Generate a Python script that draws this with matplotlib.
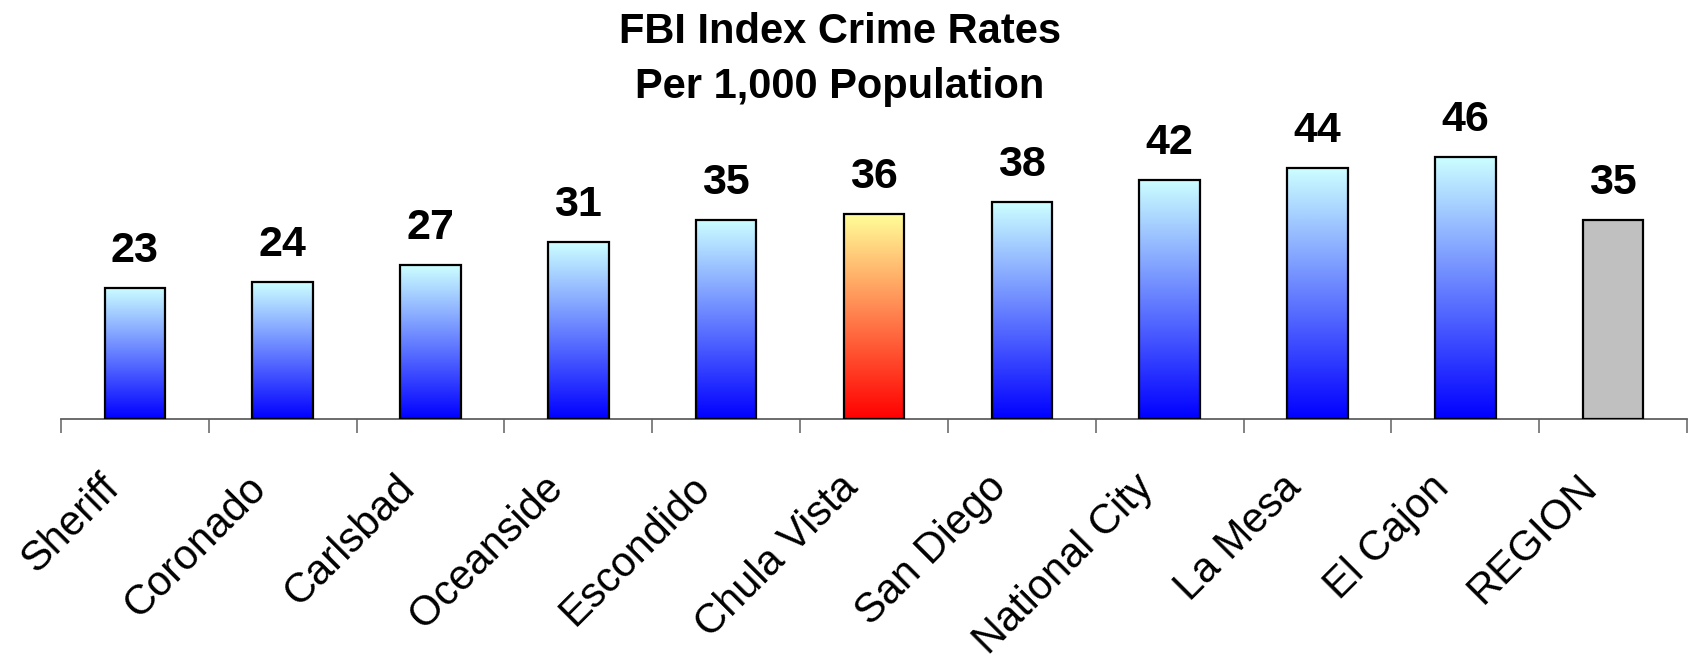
import numpy as np
import matplotlib
matplotlib.use("Agg")
import matplotlib.pyplot as plt
from matplotlib.colors import LinearSegmentedColormap
from matplotlib.transforms import ScaledTranslation

plt.rcParams['font.family'] = ['Liberation Sans', 'DejaVu Sans']

categories = ["Sheriff", "Coronado", "Carlsbad", "Oceanside", "Escondido",
              "Chula Vista", "San Diego", "National City", "La Mesa",
              "El Cajon", "REGION"]
values = [23, 24, 27, 31, 35, 36, 38, 42, 44, 46, 35]
kinds = ["blue", "blue", "blue", "blue", "blue", "warm",
         "blue", "blue", "blue", "blue", "gray"]
title_lines = ["FBI Index Crime Rates", "Per 1,000 Population"]

W, H = 1688, 661
fig = plt.figure(figsize=(W / 100, H / 100), dpi=100)
base_px = 419
px_per_unit = 5.7
ytop = 60
ax_h = ytop * px_per_unit
ax = fig.add_axes([61 / W, 1 - base_px / H, (1687 - 61) / W, ax_h / H])

x = np.arange(len(categories))
bars = ax.bar(x, values, width=0.41, facecolor='none', edgecolor='black',
              linewidth=1.6, zorder=3)

cmaps = {
    "blue": LinearSegmentedColormap.from_list("b", ["#0000FF", "#CCFFFF"]),
    "warm": LinearSegmentedColormap.from_list("w", ["#FF0000", "#FFFF99"]),
}
grad = np.linspace(0, 1, 256).reshape(-1, 1)
for bar, kind in zip(bars, kinds):
    x0, w, h = bar.get_x(), bar.get_width(), bar.get_height()
    if kind == "gray":
        bar.set_facecolor("#C0C0C0")
        continue
    im = ax.imshow(grad, cmap=cmaps[kind], origin='lower', aspect='auto',
                   extent=[x0, x0 + w, 0, h], zorder=2, interpolation='bilinear')
    im.set_clip_path(bar)

for xi, v in zip(x, values):
    ax.annotate(f"{v}", (xi, v), xytext=(0, 26), textcoords='offset pixels',
                ha='center', va='baseline', fontsize=31, fontweight='bold',
                annotation_clip=False)

ax.set_xlim(-0.5, len(categories) - 0.5)
ax.set_ylim(0, ytop)
for s in ['top', 'right', 'left']:
    ax.spines[s].set_visible(False)
ax.spines['bottom'].set_color('#606060')
ax.spines['bottom'].set_linewidth(1.3)
ax.set_yticks([])
ax.set_xticks(x)
ax.set_xticks(np.arange(-0.5, len(categories), 1), minor=True)
ax.tick_params(axis='x', which='major', length=0, pad=45)
ax.tick_params(axis='x', which='minor', length=10, width=1.1, color='#606060')
ax.set_xticklabels(categories, rotation=45, ha='right', va='center',
                   rotation_mode='anchor', fontsize=30)
off = ScaledTranslation(-22 / 100, 0, fig.dpi_scale_trans)
for lab in ax.get_xticklabels():
    lab.set_transform(lab.get_transform() + off)

fig.text(840 / W, 1 - 43 / H, title_lines[0], ha='center', va='baseline',
         fontsize=30, fontweight='bold')
fig.text(840 / W, 1 - 98 / H, title_lines[1], ha='center', va='baseline',
         fontsize=30, fontweight='bold')

fig.savefig("out.png", dpi=100)
